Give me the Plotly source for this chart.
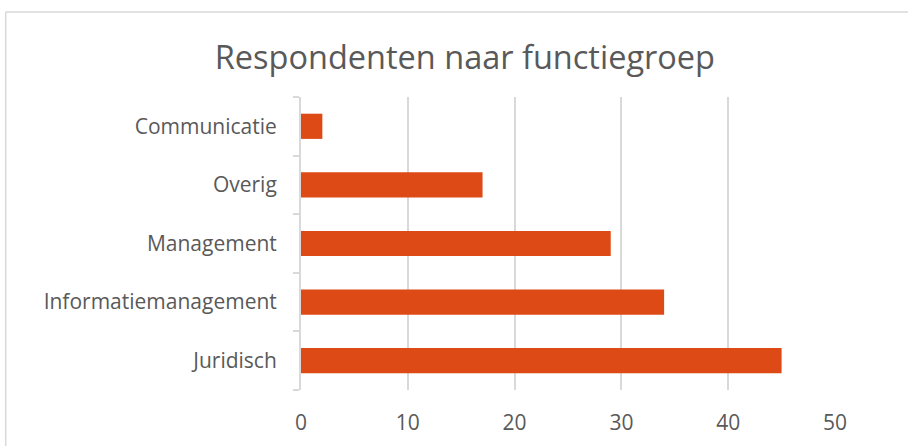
import plotly.graph_objects as go

categories = ["Juridisch", "Informatiemanagement", "Management", "Overig", "Communicatie"]
values = [45, 34, 29, 17, 2]
x_ticks = [0, 10, 20, 30, 40, 50]

grey_text = "#595959"
grid = "#d9d9d9"
font_family = "Open Sans, Lato, sans-serif"

fig = go.Figure(go.Bar(
    x=values,
    y=categories,
    orientation="h",
    marker=dict(color="#DE4A16", line=dict(width=0)),
))

# outer chart border: only the top and left edges are inside the picture
border = dict(color=grid, width=1.5)
fig.update_layout(
    width=908, height=446,
    margin=dict(l=301, r=73, t=97, b=56),
    paper_bgcolor="white",
    plot_bgcolor="white",
    font=dict(family=font_family, color=grey_text, size=21),
    title=dict(text="Respondenten naar functiegroep", x=0.512, xanchor="center",
               y=0.87, yanchor="middle",
               font=dict(family=font_family, size=32.5, color=grey_text)),
    bargap=0.57,
    showlegend=False,
    xaxis=dict(range=[0, 50], tickvals=x_ticks, showgrid=True, gridcolor=grid, gridwidth=2,
               zeroline=False, showline=False, ticks="", ticklabelstandoff=18,
               automargin=False),
    yaxis=dict(showgrid=False, showline=True, linecolor=grid, linewidth=2,
               ticks="outside", tickson="boundaries", ticklen=6, tickcolor=grid, tickwidth=2,
               ticklabelstandoff=18, automargin=False),
    shapes=[
        dict(type="line", xref="paper", yref="paper", x0=-0.553, x1=1.2, y0=1.29, y1=1.29,
             line=border, layer="below"),
        dict(type="line", xref="paper", yref="paper", x0=-0.553, x1=-0.553, y0=-0.3, y1=1.29,
             line=border, layer="below"),
    ],
)

# drop the default page margin (and any scrollbar) so the figure sits at the window corner
fig.write_html("out.html", config={"displayModeBar": False},
               post_script="document.body.style.margin='0';"
                           "document.body.style.overflow='hidden';"
                           "document.documentElement.style.overflow='hidden';")
